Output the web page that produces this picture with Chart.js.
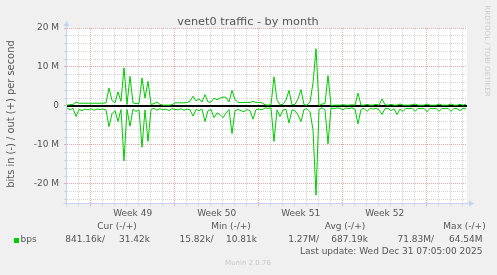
<!DOCTYPE html>
<html>
<head>
<meta charset="utf-8">
<title>venet0 traffic - by month</title>
<script src="https://cdn.jsdelivr.net/npm/chart.js@4.4.1/dist/chart.umd.min.js"></script>
<style>
  html, body { margin:0; padding:0; background:#f0f0f0; }
  canvas { display:block; }
</style>
</head>
<body>
<canvas id="traffic-chart" width="497" height="275"></canvas>
<script>
// ═══════════════════════════════════════════════
// DATA  (one sample every 6h, x in days from graph start)
// ═══════════════════════════════════════════════
const STEP_DAYS = 0.25;
const X_MAX_DAYS = 400 / 12;          // 400 px wide, 12 px per day
const Y_MIN = -24.9, Y_MAX = 20;      // Mbit/s

// out (+), Mbit/s
const outMbps = [
  0.2, 0.3, 0.4, 1.0, 0.7, 0.7, 0.7, 0.7, 0.7, 0.7,
  0.7, 0.7, 0.7, 0.8, 4.6, 1.4, 0.8, 3.6, 1.2, 9.8,
  0.4, 7.6, 0.8, 0.6, 0.6, 7.2, 2.0, 6.3, 0.4, 0.6,
  1.0, 0.4, 0.2, 0.2, 0.2, 0.3, 0.8, 0.8, 0.8, 0.8,
  0.9, 1.2, 2.5, 1.3, 1.8, 1.0, 2.9, 1.0, 1.0, 2.0,
  1.6, 2.0, 2.3, 2.2, 1.0, 4.0, 1.6, 0.9, 0.9, 0.9,
  0.9, 0.9, 1.2, 0.9, 0.9, 0.8, 0.3, 0.2, 0.3, 7.5,
  1.5, 0.3, 0.4, 1.5, 4.0, 0.3, 0.4, 1.8, 4.2, 0.3,
  0.2, 1.0, 5.9, 14.7, 0.1, 0.5, 0.6, 7.8, 0.1, 0.2,
  0.2, 0.2, 0.3, 0.2, 0.2, 0.3, 0.2, 3.3, 0.2, 0.2,
  0.4, 0.2, 0.2, 0.4, 0.2, 1.8, 0.3, 0.2, 0.4, 0.2,
  0.2, 0.5, 0.2, 0.2, 0.2, 0.3, 0.5, 0.2, 0.2, 0.2,
  0.5, 0.2, 0.2, 0.2, 0.5, 0.2, 0.2, 0.2, 0.5, 0.2,
  0.2, 0.4, 0.2, 0.5
];
// in (-), Mbit/s (drawn mirrored below zero)
const inMbps = [
  0.5, 1.0, 0.6, 2.7, 0.9, 1.2, 0.8, 1.0, 0.7, 1.1,
  0.8, 0.9, 0.8, 1.0, 5.3, 2.0, 1.2, 4.0, 0.9, 14.1,
  0.9, 5.2, 0.8, 1.4, 1.0, 10.6, 1.0, 9.1, 0.9, 0.6,
  1.1, 0.7, 1.0, 0.8, 1.2, 0.7, 0.9, 1.0, 0.7, 1.1,
  0.8, 1.0, 2.6, 0.9, 1.2, 0.8, 4.0, 1.2, 0.9, 3.0,
  1.8, 2.2, 3.0, 1.8, 0.9, 7.1, 1.2, 0.9, 1.2, 1.5,
  0.9, 1.2, 3.4, 0.9, 0.8, 1.0, 0.5, 0.6, 0.5, 9.1,
  1.0, 2.7, 1.0, 0.9, 4.4, 1.0, 1.2, 2.3, 4.0, 0.9,
  0.7, 1.5, 6.1, 22.9, 0.9, 0.5, 1.0, 9.7, 0.5, 0.7,
  0.5, 0.6, 1.0, 0.5, 0.7, 0.5, 0.8, 4.6, 0.9, 0.6,
  1.4, 0.6, 0.8, 0.6, 1.0, 2.2, 0.7, 0.6, 1.2, 0.7,
  2.2, 0.8, 1.4, 0.6, 0.7, 0.6, 1.4, 0.6, 0.7, 0.6,
  1.5, 0.6, 0.7, 0.6, 1.4, 0.6, 0.7, 0.6, 1.4, 0.6,
  0.7, 1.2, 0.6, 0.8
];

// axes
const yGridValues = [-24,-22,-20,-18,-16,-14,-12,-10,-8,-6,-4,-2,0,2,4,6,8,10,12,14,16,18,20];
const yMajorTicks = [-20, -10, 0, 10, 20];
const FIRST_MIDNIGHT = 0.97;                          // Sat Nov 29 00:00
const weekStarts = [1.97, 8.97, 15.97, 22.97, 29.97]; // Mondays 00:00
const weekLabels = ['Week 49', 'Week 50', 'Week 51', 'Week 52'];
const weekMids = weekLabels.map((_, i) => weekStarts[i] + 3.5);
const dayLines = [];
for (let d = FIRST_MIDNIGHT; d < X_MAX_DAYS; d += 1) dayLines.push(+d.toFixed(2));

// legend text
const legendHeads = ['Cur (-/+)', 'Min (-/+)', 'Avg (-/+)', 'Max (-/+)'];
const legendIn  = ['841.16k/', '15.82k/', '1.27M/', '71.83M/'];
const legendOut = ['31.42k', '10.81k', '687.19k', '64.54M'];
const lastUpdate = 'Last update: Wed Dec 31 07:05:00 2025';

// ═══════════════════════════════════════════════
const FONT = '"DejaVu Sans", sans-serif';
const TXT = '#555555';
const MINOR = '#d4d4d4', MAJOR = '#e9a6a6', AXIS = '#c9d0f6', GREEN = '#00cc00';

function txt(ctx, s, x, y, size, color, align) {
  ctx.font = size + 'px ' + FONT;
  ctx.fillStyle = color;
  ctx.textAlign = align || 'left';
  ctx.textBaseline = 'middle';
  ctx.fillText(s, x, y);
}

const muninFrame = {
  id: 'muninFrame',
  beforeDraw(chart) {
    const { ctx, chartArea: a } = chart;
    ctx.save();
    ctx.fillStyle = '#f0f0f0'; ctx.fillRect(0, 0, chart.width, chart.height);
    ctx.fillStyle = '#ffffff'; ctx.fillRect(a.left, a.top, a.right - a.left, a.bottom - a.top);
    ctx.restore();
  },
  beforeDatasetsDraw(chart) {
    const { ctx, chartArea: a } = chart;
    const y0 = Math.round(chart.scales.y.getPixelForValue(0));
    ctx.save();
    ctx.strokeStyle = '#000'; ctx.lineWidth = 2;
    ctx.beginPath(); ctx.moveTo(a.left, y0); ctx.lineTo(a.right, y0); ctx.stroke();
    ctx.restore();
  },
  afterDatasetsDraw(chart) {
    const { ctx, chartArea: a } = chart;
    const xl = a.left - 0.5, yb = a.bottom + 0.5;
    ctx.save();
    ctx.strokeStyle = AXIS; ctx.fillStyle = AXIS; ctx.lineWidth = 1;
    ctx.beginPath();
    ctx.moveTo(xl, yb + 3); ctx.lineTo(xl, a.top - 3);
    ctx.moveTo(xl - 3, yb); ctx.lineTo(a.right + 3, yb);
    ctx.stroke();
    ctx.beginPath(); ctx.moveTo(xl, a.top - 7); ctx.lineTo(xl - 3, a.top - 2); ctx.lineTo(xl + 3, a.top - 2); ctx.closePath(); ctx.fill();
    ctx.beginPath(); ctx.moveTo(a.right + 7, yb); ctx.lineTo(a.right + 2, yb - 3); ctx.lineTo(a.right + 2, yb + 3); ctx.closePath(); ctx.fill();
    ctx.restore();
  },
  afterDraw(chart) {
    const ctx = chart.ctx;
    ctx.save();
    txt(ctx, 'venet0 traffic - by month', 248, 22, 11.3, TXT, 'center');
    ctx.save(); ctx.translate(11, 114); ctx.rotate(-Math.PI / 2);
    txt(ctx, 'bits in (-) / out (+) per second', 0, 0, 9.9, TXT, 'center');
    ctx.restore();
    ctx.save(); ctx.translate(487, 51); ctx.rotate(Math.PI / 2);
    txt(ctx, 'RRDTOOL / TOBI OETIKER', 0, 0, 7.1, '#cccccc', 'center');
    ctx.restore();

    const headX = [117, 231, 345, 464.5];
    const inX = [105, 213.5, 319, 434], outX = [150, 257, 368, 482.5];
    legendHeads.forEach((h, i) => txt(ctx, h, headX[i], 227, 9, TXT, 'center'));
    ctx.fillStyle = GREEN; ctx.fillRect(14, 238, 5, 5);
    txt(ctx, 'bps', 20.5, 240, 9, TXT, 'left');
    legendIn.forEach((s, i) => txt(ctx, s, inX[i], 240, 9, TXT, 'right'));
    legendOut.forEach((s, i) => txt(ctx, s, outX[i], 240, 9, TXT, 'right'));
    txt(ctx, lastUpdate, 482.5, 251.5, 9, TXT, 'right');
    txt(ctx, 'Munin 2.0.76', 248, 263, 7, '#c8c8c8', 'center');
    ctx.restore();
  }
};

const xs = outMbps.map((_, i) => i * STEP_DAYS);
new Chart(document.getElementById('traffic-chart'), {
  type: 'line',
  data: {
    datasets: [
      { label: 'out', data: outMbps.map((v, i) => ({ x: xs[i], y: v })),  borderColor: GREEN, borderWidth: 1, pointRadius: 0, tension: 0 },
      { label: 'in',  data: inMbps.map((v, i) => ({ x: xs[i], y: -v })), borderColor: GREEN, borderWidth: 1, pointRadius: 0, tension: 0 }
    ]
  },
  options: {
    responsive: false, animation: false, events: [],
    layout: { padding: { top: 28, right: 30, left: 0, bottom: 0 } },
    plugins: { legend: { display: false }, tooltip: { enabled: false }, title: { display: false } },
    scales: {
      x: {
        type: 'linear', min: 0, max: X_MAX_DAYS,
        afterFit: s => { s.height = 72; },
        afterBuildTicks: s => { s.ticks = [...dayLines, ...weekMids].sort((a, b) => a - b).map(v => ({ value: v })); },
        ticks: { autoSkip: false, maxRotation: 0, padding: 2, color: TXT, font: { family: FONT, size: 9 },
                 callback: v => { const k = weekMids.indexOf(v); return k >= 0 ? weekLabels[k] : ''; } },
        grid: {
          lineWidth: 1, tickLength: 3,
          color: c => weekMids.includes(c.tick.value) ? 'rgba(0,0,0,0)' : weekStarts.includes(c.tick.value) ? MAJOR : MINOR,
          tickColor: c => weekMids.includes(c.tick.value) ? 'rgba(0,0,0,0)' : weekStarts.includes(c.tick.value) ? MAJOR : MINOR
        },
        border: { display: false, dash: [1, 1] }
      },
      y: {
        min: Y_MIN, max: Y_MAX,
        afterFit: s => { s.width = 67; },
        afterBuildTicks: s => { s.ticks = yGridValues.map(v => ({ value: v })); },
        ticks: { autoSkip: false, padding: 5, color: TXT, font: { family: FONT, size: 9 },
                 callback: v => yMajorTicks.includes(v) ? (v === 0 ? '0' : v + ' M') : '' },
        grid: {
          lineWidth: 1, tickLength: 3,
          color: c => yMajorTicks.includes(c.tick.value) ? MAJOR : MINOR,
          tickColor: c => yMajorTicks.includes(c.tick.value) ? MAJOR : MINOR
        },
        border: { display: false, dash: [1, 1] }
      }
    }
  },
  plugins: [muninFrame]
});
</script>
</body>
</html>
